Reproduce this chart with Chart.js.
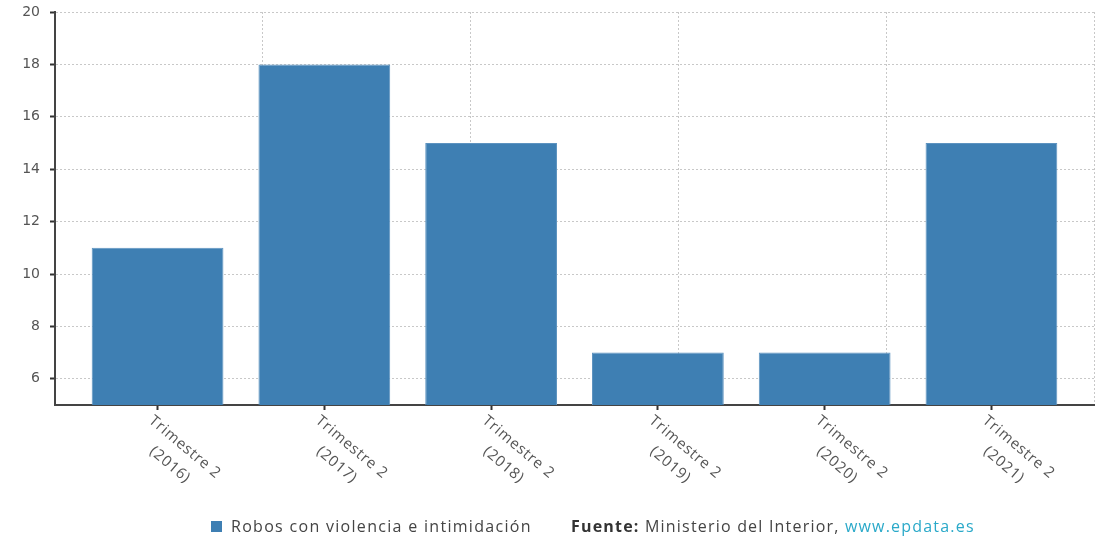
<!DOCTYPE html>
<html>
<head>
<meta charset="utf-8">
<script src="https://cdn.jsdelivr.net/npm/chart.js@4"></script>
<style>
  html, body { margin: 0; padding: 0; background: #fff; }
  #wrap { width: 1095px; height: 536px; position: relative; }
</style>
</head>
<body>
<div id="wrap"><canvas id="c" width="1095" height="536"></canvas></div>
<script>
const categories = [
  ["Trimestre 2", "(2016)"],
  ["Trimestre 2", "(2017)"],
  ["Trimestre 2", "(2018)"],
  ["Trimestre 2", "(2019)"],
  ["Trimestre 2", "(2020)"],
  ["Trimestre 2", "(2021)"]
];
const seriesName = "Robos con violencia e intimidación";
const values = [11, 18, 15, 7, 7, 15];
const yTicks = [6, 8, 10, 12, 14, 16, 18, 20];
const xGridLines = [0, 1, 2, 3, 4, 5];
const sourceBold = "Fuente:";
const sourceText = " Ministerio del Interior, ";
const sourceLink = "www.epdata.es";

const BAR = "#3e7fb3";

const labelsPlugin = {
  id: "customLabels",
  afterDraw(chart) {
    const ctx = chart.ctx;
    const xs = chart.scales.x;
    const area = chart.chartArea;
    ctx.save();
    // rotated category labels
    ctx.font = "15px 'Open Sans'";
    ctx.letterSpacing = "0.8px";
    ctx.fillStyle = "#555";
    ctx.textBaseline = "top";
    ctx.textAlign = "center";
    categories.forEach((lines, i) => {
      const px = xs.getPixelForValue(i);
      const w = Math.max(...lines.map(l => ctx.measureText(l).width));
      ctx.save();
      ctx.translate(px - 2, area.bottom + 8);
      ctx.rotate(40 * Math.PI / 180);
      lines.forEach((l, k) => ctx.fillText(l, w / 2, k * 23));
      ctx.restore();
    });
    // legend
    const ds = chart.data.datasets[0];
    ctx.fillStyle = ds.backgroundColor;
    ctx.fillRect(211, 521, 11, 11);
    ctx.textAlign = "left";
    ctx.textBaseline = "alphabetic";
    ctx.letterSpacing = "1.3px";
    ctx.font = "16px 'Open Sans'";
    ctx.fillStyle = "#444";
    ctx.fillText(ds.label, 231, 532);
    // source
    let x = 571;
    ctx.letterSpacing = "1.2px";
    ctx.font = "bold 16px 'Open Sans'";
    ctx.fillStyle = "#333";
    ctx.fillText(sourceBold, x, 532);
    x += ctx.measureText(sourceBold).width;
    ctx.font = "16px 'Open Sans'";
    ctx.fillStyle = "#444";
    ctx.fillText(sourceText, x, 532);
    x += ctx.measureText(sourceText).width;
    ctx.fillStyle = "#2aa9c9";
    ctx.fillText(sourceLink, x, 532);
    ctx.restore();
  }
};

new Chart(document.getElementById("c"), {
  type: "bar",
  data: {
    datasets: [{
      label: seriesName,
      data: values.map((v, i) => ({ x: i, y: v })),
      backgroundColor: BAR,
      borderColor: "#5d93c0",
      borderWidth: 1,
      categoryPercentage: 1,
      barPercentage: 0.79,
      xAxisID: "x",
      yAxisID: "y"
    }]
  },
  options: {
    responsive: false,
    animation: false,
    layout: { padding: { top: 12, right: 1, left: 0, bottom: 0 } },
    plugins: { legend: { display: false }, tooltip: { enabled: false } },
    scales: {
      x: {
        type: "linear",
        position: "bottom",
        min: -0.615,
        max: 5.615,
        offset: false,
        afterBuildTicks: s => { s.ticks = categories.map((c, i) => ({ value: i })); },
        afterFit: s => { s.height = 131; s.paddingLeft = 0; s.paddingRight = 0; },
        ticks: { display: false },
        grid: { offset: false, drawOnChartArea: false, drawTicks: true, tickLength: 5, tickColor: "#333", tickWidth: 2, color: "transparent" },
        border: { display: true, color: "#444", width: 2 }
      },
      x2: {
        type: "linear",
        position: "bottom",
        min: 0,
        max: 5,
        offset: false,
        afterBuildTicks: s => { s.ticks = xGridLines.map(v => ({ value: v })); },
        afterFit: s => { s.height = 0; s.paddingLeft = 0; s.paddingRight = 0; },
        ticks: { display: false },
        grid: { offset: false, drawTicks: false, color: "#c8c8c8", lineWidth: 1 },
        border: { display: false, dash: [2, 2] }
      },
      y: {
        type: "linear",
        min: 5,
        max: 20,
        afterBuildTicks: s => { s.ticks = yTicks.map(v => ({ value: v })); },
        afterFit: s => { s.width = 55; s.paddingTop = 0; s.paddingBottom = 0; },
        ticks: { color: "#555", font: { family: "'DejaVu Sans'", size: 14 }, padding: 10 },
        grid: { color: "#c8c8c8", lineWidth: 1, tickLength: 5, tickColor: "#333", tickWidth: 2 },
        border: { display: true, color: "#444", width: 2, dash: [2, 2] }
      }
    }
  },
  plugins: [labelsPlugin]
});
</script>
</body>
</html>
